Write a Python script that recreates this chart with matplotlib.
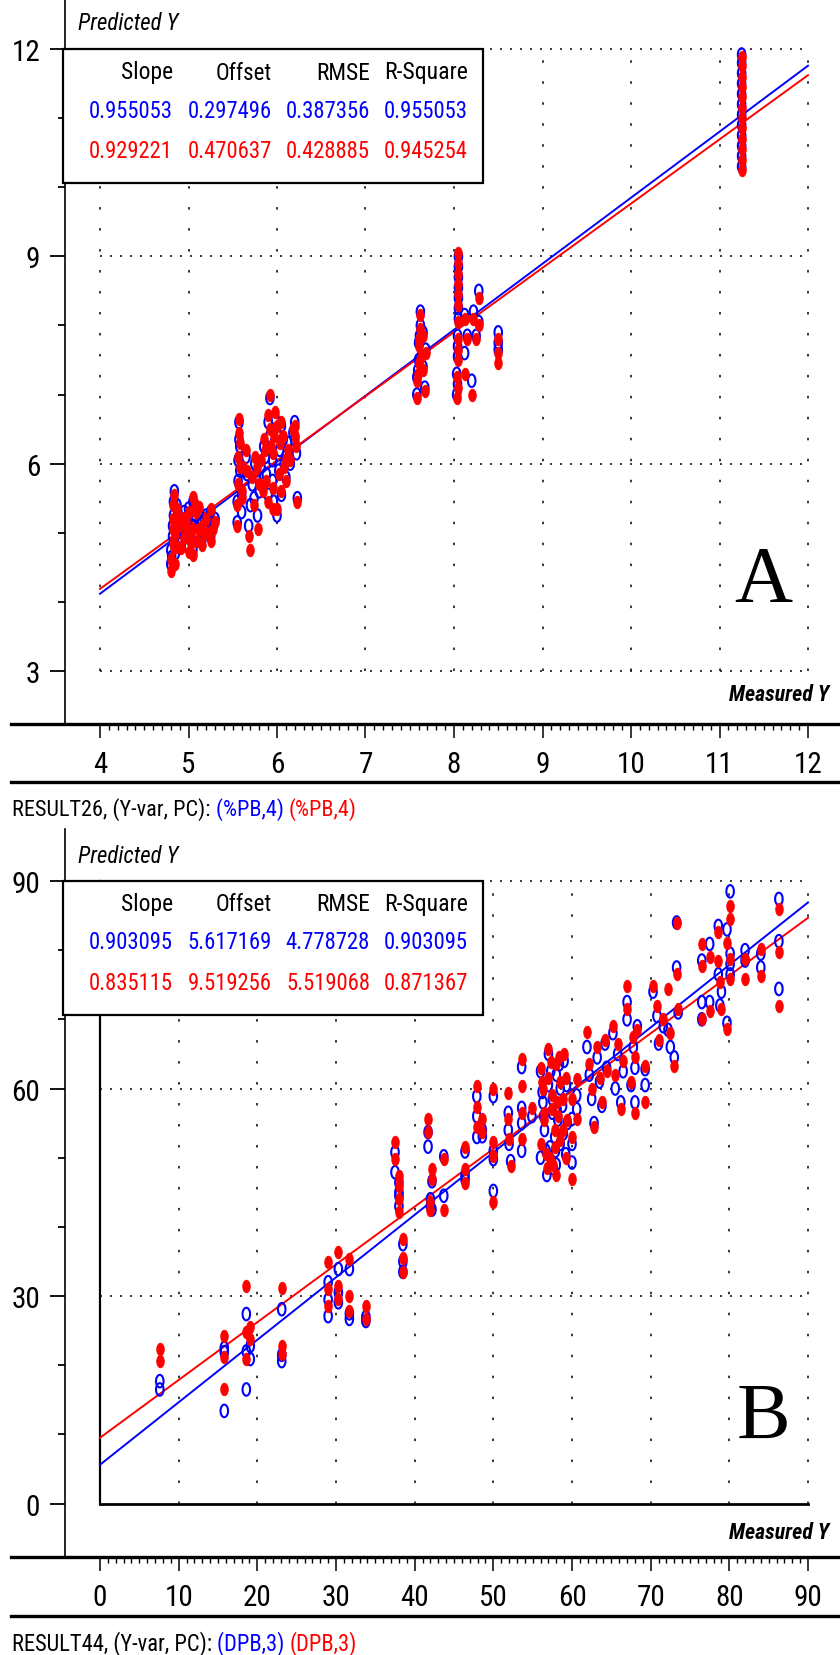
import numpy as np
import matplotlib
matplotlib.use("Agg")
import matplotlib.pyplot as plt
import matplotlib.font_manager as fm
from matplotlib.lines import Line2D
from matplotlib.patches import Rectangle
from matplotlib.ticker import FixedLocator

W, H = 840, 1656

# pick a narrow sans if one is installed (the reference uses a condensed face)
avail = {f.name for f in fm.fontManager.ttflist}
NARROW = None
for cand in ['Liberation Sans Narrow', 'Arial Narrow', 'Roboto Condensed', 'Open Sans Condensed',
             'Noto Sans Condensed', 'DejaVu Sans Condensed']:
    if cand in avail:
        NARROW = cand
        break
STRETCH = 'normal'
if NARROW is None:
    for fam in ['Noto Sans', 'Open Sans', 'Roboto', 'DejaVu Sans']:
        if any(f.name == fam and 'condensed' in str(f.stretch) for f in fm.fontManager.ttflist):
            NARROW, STRETCH = fam, 'condensed'
            break
if NARROW is None:
    NARROW = 'Liberation Sans'
plt.rcParams['font.family'] = [NARROW, 'DejaVu Sans']
plt.rcParams['font.stretch'] = STRETCH
plt.rcParams['lines.scale_dashes'] = False
TICK_SIZE = 21 if NARROW != 'Liberation Sans' else 18

BLUE = '#0000ff'
RED = '#ff0000'

# ---------- panel A data (%PB) ----------
meas_a = [4.80, 4.80, 4.82, 4.82, 4.83, 4.83, 4.84, 4.85, 4.85, 4.88, 4.88, 4.90, 4.95, 4.95,
          5.00, 5.00, 5.05, 5.05, 5.05, 5.08, 5.10, 5.12, 5.15, 5.15, 5.22, 5.25, 5.25, 5.30,
          4.81, 4.86, 4.87, 4.92, 4.97, 5.02, 5.03, 5.07, 5.12, 5.18, 5.20, 5.28, 4.84, 4.98,
          5.55, 5.55, 5.56, 5.56, 5.57, 5.57, 5.60, 5.62, 5.65, 5.68, 5.70, 5.72, 5.75, 5.78,
          5.80, 5.82, 5.85, 5.88, 5.90, 5.90, 5.92, 5.92, 5.95, 5.95, 5.97, 5.98, 6.00, 6.02,
          6.03, 6.05, 6.05, 6.08, 6.10, 6.12, 6.18, 6.20, 6.22, 6.23,
          5.58, 5.58, 5.60, 5.66, 5.74, 5.77, 5.84, 5.87, 5.93, 5.96, 6.00, 6.07, 6.10, 6.15, 6.20,
          7.58, 7.58, 7.60, 7.60, 7.62, 7.62, 7.65, 7.65, 7.67, 7.68, 7.59, 7.61, 7.63,
          8.03, 8.03, 8.04, 8.04, 8.05, 8.05, 8.05, 8.05, 8.12, 8.12, 8.15, 8.20, 8.22, 8.25,
          8.28, 8.28, 8.50, 8.50, 8.50, 8.04, 8.04, 8.05, 8.05, 8.05,
          11.25, 11.25, 11.25, 11.25, 11.25, 11.25, 11.25, 11.25, 11.25, 11.25, 11.25, 11.25]
cal_a = [4.55, 4.75, 4.95, 5.10, 5.25, 5.45, 5.60, 5.05, 4.70, 5.30, 4.90, 5.15, 5.00, 5.30,
         4.80, 5.35, 5.45, 5.10, 4.75, 5.25, 4.95, 5.30, 4.90, 5.15, 5.05, 5.30, 4.95, 5.20,
         4.65, 5.15, 5.40, 4.85, 5.20, 5.05, 4.90, 5.35, 5.10, 5.05, 5.25, 5.10, 4.85, 5.10,
         5.15, 5.45, 5.75, 6.05, 6.35, 6.60, 5.30, 5.90, 6.10, 5.10, 5.40, 5.70, 6.00, 5.25,
         5.60, 5.95, 6.25, 5.85, 6.60, 5.55, 6.95, 6.40, 6.05, 5.75, 6.30, 6.65, 5.25, 5.90,
         6.20, 6.55, 5.55, 6.00, 5.80, 6.30, 6.45, 6.60, 6.15, 5.50,
         5.90, 6.25, 5.55, 5.85, 5.50, 5.85, 5.70, 6.10, 6.20, 5.45, 6.45, 6.35, 6.10, 6.00, 6.35,
         7.00, 7.25, 7.50, 7.75, 8.00, 8.20, 7.40, 7.90, 7.10, 7.65, 7.35, 7.85, 7.55,
         7.00, 7.30, 7.55, 7.85, 8.10, 8.40, 8.70, 9.00, 7.60, 8.15, 7.85, 7.20, 8.20, 7.85,
         8.50, 8.05, 7.90, 7.75, 7.65, 7.15, 7.70, 8.25, 8.55, 8.85,
         10.30, 10.45, 10.60, 10.75, 10.90, 11.05, 11.20, 11.35, 11.50, 11.65, 11.80, 11.92]
val_a = [4.45, 4.62, 4.85, 5.05, 5.20, 5.40, 5.55, 4.98, 4.55, 5.25, 4.80, 5.10, 4.92, 5.22,
         4.72, 5.30, 5.52, 5.05, 4.68, 5.30, 4.88, 5.38, 4.82, 5.10, 5.00, 5.35, 4.88, 5.15,
         4.58, 5.08, 5.35, 4.78, 5.15, 4.98, 4.85, 5.42, 5.05, 4.98, 5.20, 5.05, 4.78, 5.05,
         5.10, 5.40, 5.70, 6.10, 6.45, 6.65, 5.60, 5.95, 6.20, 4.95, 4.75, 5.80, 6.10, 5.05,
         5.70, 6.05, 6.35, 5.75, 6.70, 5.45, 7.00, 6.50, 6.15, 5.65, 6.40, 6.75, 5.35, 5.85,
         6.30, 6.60, 5.60, 5.95, 5.75, 6.20, 6.50, 6.55, 6.25, 5.45,
         5.95, 6.30, 5.50, 5.90, 5.40, 5.95, 5.60, 6.20, 6.25, 5.35, 6.55, 6.40, 6.05, 6.05, 6.40,
         6.95, 7.20, 7.45, 7.70, 7.95, 8.15, 7.35, 7.85, 7.05, 7.60, 7.30, 7.80, 7.55,
         6.95, 7.25, 7.50, 7.80, 8.05, 8.45, 8.75, 9.05, 7.30, 8.10, 7.80, 7.00, 8.10, 7.80,
         8.40, 8.00, 7.80, 7.60, 7.45, 7.10, 7.65, 8.30, 8.60, 8.90,
         10.25, 10.40, 10.55, 10.70, 10.85, 11.00, 11.15, 11.30, 11.45, 11.60, 11.75, 11.88]

# ---------- panel B data (DPB) ----------
meas_b = [7.6, 7.6, 15.8, 15.8, 15.8, 18.6, 18.6, 18.6, 19.1, 19.1, 23.1, 23.1, 23.1,
          29.0, 29.0, 29.0, 30.3, 30.3, 30.3, 31.7, 31.7, 31.7, 33.8, 33.8,
          37.5, 37.5, 38.0, 38.0, 38.0, 38.0, 38.5, 38.5, 38.5, 41.7, 41.7, 42.2, 42.2, 42.0, 42.0,
          43.7, 43.7, 46.4, 46.4, 46.4, 47.9, 47.9, 47.9, 48.6, 48.6, 50.0, 50.0, 50.0, 50.0,
          51.9, 51.9, 52.0, 52.2, 53.6, 53.6, 53.6, 53.6, 54.9,
          56.0, 56.0, 56.3, 56.5, 56.8, 57.0, 57.0, 57.2, 57.5, 57.5, 57.8, 58.0, 58.0, 58.2,
          58.5, 58.5, 58.8, 59.0, 59.2, 59.4, 60.0, 60.0, 60.0, 60.6, 60.6,
          56.2, 56.7, 57.3, 57.6, 58.1, 58.4, 58.9, 59.3, 57.9, 56.4,
          61.9, 62.2, 62.5, 62.8, 63.2, 63.5, 63.8, 64.2, 64.4, 65.2, 65.5, 65.8, 66.2, 66.5,
          67.0, 67.0, 67.5, 67.8, 68.0, 68.0, 68.3, 69.3, 69.3, 70.3, 70.8, 71.0, 71.6, 72.2,
          72.5, 73.0, 73.3, 73.3, 73.5, 76.5, 76.5, 76.5, 77.5, 77.5, 78.6, 78.6, 78.8, 79.0,
          79.7, 79.7, 80.1, 80.1, 80.1, 80.1, 82.0, 82.0, 84.0, 84.0, 86.3, 86.3, 86.3]
cal_b = [17.7, 16.5, 21.9, 13.4, 22.5, 27.4, 16.5, 22.0, 22.8, 20.9, 28.1, 20.6, 21.5,
         32.0, 27.1, 29.5, 33.9, 29.1, 30.5, 33.9, 26.7, 27.5, 26.4, 27.0,
         50.8, 47.9, 46.4, 45.0, 44.5, 43.0, 37.5, 33.5, 35.0, 53.7, 51.6, 46.6, 42.5, 44.0, 43.0,
         50.2, 44.5, 50.9, 46.9, 47.5, 58.9, 56.0, 53.0, 53.1, 54.0, 58.9, 49.8, 45.2, 51.0,
         56.5, 54.0, 52.0, 49.5, 63.1, 57.2, 55.0, 51.0, 56.0,
         62.5, 50.0, 58.0, 54.0, 47.5, 65.0, 60.5, 51.5, 56.5, 58.5, 53.0, 49.0, 62.0, 55.5,
         60.0, 52.0, 57.5, 64.0, 50.5, 55.0, 55.6, 49.3, 52.0, 59.0, 57.0,
         59.5, 51.0, 62.5, 48.5, 57.0, 63.5, 53.5, 60.5, 51.0, 56.0,
         66.0, 62.0, 58.5, 55.0, 64.5, 61.0, 57.5, 66.5, 63.0, 68.0, 60.0, 65.0, 58.0, 62.5,
         72.5, 70.0, 60.5, 66.0, 63.0, 58.0, 69.0, 62.8, 60.5, 74.0, 70.5, 66.5, 69.0, 68.5,
         66.0, 64.5, 84.0, 77.5, 71.0, 78.5, 72.5, 70.0, 80.9, 72.5, 83.5, 76.5, 72.0, 74.0,
         83.0, 69.5, 88.5, 78.0, 76.5, 79.5, 80.0, 78.5, 79.5, 77.5, 87.4, 81.3, 74.4]
val_b = [22.3, 20.6, 24.2, 16.5, 21.2, 31.4, 24.8, 20.9, 25.6, 23.8, 31.2, 22.8, 21.6,
         34.9, 28.5, 31.0, 36.3, 31.4, 29.6, 35.4, 30.0, 27.8, 28.5, 26.7,
         52.2, 49.8, 47.4, 45.9, 44.0, 42.2, 38.3, 35.5, 33.5, 55.6, 53.7, 48.4, 46.9, 43.6, 42.5,
         49.8, 42.5, 51.6, 48.4, 46.4, 60.3, 57.4, 54.5, 55.6, 53.7, 59.9, 52.2, 43.6, 50.2,
         59.4, 55.6, 52.7, 48.8, 64.3, 60.3, 56.5, 52.7, 57.2,
         63.0, 52.0, 60.0, 55.5, 48.5, 65.7, 61.5, 50.0, 57.0, 59.0, 54.0, 47.5, 63.5, 56.0,
         61.0, 52.5, 58.5, 65.0, 50.0, 55.5, 58.5, 46.9, 53.0, 61.4, 55.6,
         61.0, 50.5, 63.8, 49.0, 58.0, 64.5, 54.0, 61.5, 51.5, 56.5,
         68.1, 63.5, 60.0, 54.5, 66.0, 61.5, 58.0, 67.0, 62.5, 69.0, 62.0, 66.5, 57.0, 64.0,
         74.8, 71.5, 61.0, 67.5, 64.5, 56.5, 68.5, 63.2, 58.0, 74.8, 72.0, 67.0, 70.0, 74.4,
         68.0, 63.2, 84.0, 76.5, 71.5, 80.9, 77.7, 70.0, 79.0, 71.2, 82.6, 78.5, 75.4, 71.5,
         81.0, 68.6, 86.4, 84.5, 78.7, 75.8, 78.7, 75.8, 80.1, 76.2, 85.9, 79.7, 71.9]

stat_cols = ["Slope", "Offset", "RMSE", "R-Square"]
stats_a_cal = ["0.955053", "0.297496", "0.387356", "0.955053"]
stats_a_val = ["0.929221", "0.470637", "0.428885", "0.945254"]
stats_b_cal = ["0.903095", "5.617169", "4.778728", "0.903095"]
stats_b_val = ["0.835115", "9.519256", "5.519068", "0.871367"]

fig = plt.figure(figsize=(W / 100, H / 100), dpi=100)
renderer = fig.canvas.get_renderer()


def fy(py):
    return 1 - py / H


def fit_text(x, y, s, size, maxw, **kw):
    # put text at figure pixel (x, y) and shrink it if it is wider than maxw pixels
    tt = fig.text(x / W, fy(y), s, fontsize=size, **kw)
    w = tt.get_window_extent(renderer=renderer).width
    if w > maxw:
        tt.set_fontsize(size * maxw / w)
    return tt


t = np.linspace(0, 2 * np.pi, 41)
ellipse = np.column_stack([0.6 * np.cos(t), np.sin(t)])


def panel(top, bot, xa, xb, ya, pya, yb, pyb, xmaj, xmin_, ymaj, ymin_,
          meas, cal, val, s_cal, s_val, zero_lines):
    # x: xa at px 100, xb at px 808 ; y: ya at pya, yb at pyb
    sx = (xb - xa) / 708.0
    sy = (ya - yb) / (pyb - pya)
    xlim = (xa + (65 - 100) * sx, xa + (840 - 100) * sx)
    ylim = (yb - (bot - pyb) * sy, ya + (pya - top) * sy)
    ax = fig.add_axes([65 / W, 1 - bot / H, 775 / W, (bot - top) / H])
    ax.set_xlim(*xlim)
    ax.set_ylim(*ylim)
    for s in ['top', 'right', 'bottom']:
        ax.spines[s].set_visible(False)
    ax.spines['left'].set_linewidth(1.2)

    ax.xaxis.set_major_locator(FixedLocator(xmaj))
    ax.xaxis.set_minor_locator(FixedLocator(xmin_))
    ax.yaxis.set_major_locator(FixedLocator(ymaj))
    ax.yaxis.set_minor_locator(FixedLocator(ymin_))
    ax.tick_params(axis='x', which='major', length=10, width=1.1, labelsize=TICK_SIZE, pad=9)
    ax.tick_params(axis='x', which='minor', length=4.5, width=1.0)
    ax.tick_params(axis='y', which='major', length=11, width=1.3, labelsize=TICK_SIZE, pad=7)
    ax.tick_params(axis='y', which='minor', length=5, width=1.3)
    ax.set_xticklabels([str(v) for v in xmaj])
    ax.set_yticklabels([str(v) for v in ymaj])

    # dotted grid
    gx = [v for v in xmaj if not (zero_lines and v == 0)]
    gy = [v for v in ymaj if not (zero_lines and v == 0)]
    ax.hlines(gy, xmaj[0], xmaj[-1], colors='k', linewidth=1.1, linestyles=[(0, (1.4, 5.8))], zorder=1)
    ax.vlines(gx, ymaj[0], ymaj[-1], colors='k', linewidth=1.1, linestyles=[(0, (1.8, 13.3))], zorder=1)
    if zero_lines:
        ax.plot([0, 0], [0, ymaj[-1]], color='k', lw=1.6, zorder=1)
        ax.plot([0, xmaj[-1]], [0, 0], color='k', lw=2.0, zorder=1)

    # regression lines
    xl = np.array([xmaj[0], xmaj[-1]])
    ax.plot(xl, float(s_cal[0]) * xl + float(s_cal[1]), color=BLUE, lw=1.4, zorder=2)
    ax.plot(xl, float(s_val[0]) * xl + float(s_val[1]), color=RED, lw=1.4, zorder=2)

    ax.scatter(meas, cal, marker=ellipse, s=82, facecolors='none', edgecolors=BLUE,
               linewidths=1.5, zorder=3)
    ax.scatter(meas, val, marker=ellipse, s=82, facecolors=RED, edgecolors=RED,
               linewidths=0.6, zorder=4)
    ax.patch.set_alpha(0)
    return ax


def legend_box(top_px, s_cal, s_val):
    box = Rectangle((63 / W, fy(top_px + 134)), 420 / W, 134 / H, transform=fig.transFigure,
                    facecolor='white', edgecolor='black', linewidth=1.6, zorder=5)
    fig.add_artist(box)
    rights = [173, 272, 370, 468]
    head_w = [52, 56, 54, 84]
    for i, r in enumerate(rights):
        fit_text(r, top_px + 23, stat_cols[i], 21, head_w[i], ha='right', va='center',
                 color='black', zorder=6)
        fit_text(r, top_px + 61, s_cal[i], 21, 84, ha='right', va='center', color=BLUE, zorder=6)
        fit_text(r, top_px + 102, s_val[i], 21, 84, ha='right', va='center', color=RED, zorder=6)


def footer(bar1, bar2, text_y, label, tag):
    for yb in (bar1, bar2):
        fig.add_artist(Line2D([11 / W, 1.0], [fy(yb), fy(yb)], transform=fig.transFigure,
                              color='black', lw=2.4))
    parts = [(label, 'black'), (tag + ' ', BLUE), (tag, RED)]
    texts = [fig.text(0, fy(text_y), s, ha='left', va='center', fontsize=21, color=c)
             for s, c in parts]
    total = sum(tt.get_window_extent(renderer=renderer).width for tt in texts)
    size = 21 * min(1.0, 345 / total)
    x = 12
    for tt in texts:
        tt.set_fontsize(size)
        tt.set_x(x / W)
        x += tt.get_window_extent(renderer=renderer).width


panel(0, 725, 4, 12, 12, 50, 3, 672, list(range(4, 13)),
      [v for v in np.round(np.arange(4, 12.001, 0.1), 1) if v % 1 != 0],
      [3, 6, 9, 12], [4, 5, 7, 8, 10, 11],
      meas_a, cal_a, val_a, stats_a_cal, stats_a_val, False)
panel(830, 1558, 0, 90, 90, 882, 0, 1504.6, list(range(0, 91, 10)),
      [v for v in range(0, 91) if v % 10 != 0],
      [0, 30, 60, 90], [10, 20, 40, 50, 70, 80],
      meas_b, cal_b, val_b, stats_b_cal, stats_b_val, True)

legend_box(50, stats_a_cal, stats_a_val)
legend_box(882, stats_b_cal, stats_b_val)

for py in (24, 857):
    fit_text(78, py, "Predicted Y", 21, 100, ha='left', va='center', style='italic')
for py in (695, 1533):
    fit_text(829, py, "Measured Y", 21, 100, ha='right', va='center', style='italic', weight='bold')

fig.text(763 / W, fy(583), "A", ha='center', va='center', fontsize=58, family='Liberation Serif')
fig.text(763 / W, fy(1419), "B", ha='center', va='center', fontsize=58, family='Liberation Serif')

footer(725, 783, 810, "RESULT26, (Y-var, PC): ", "(%PB,4)")
footer(1558, 1617, 1644, "RESULT44, (Y-var, PC): ", "(DPB,3)")

fig.savefig("out.png", dpi=100)
